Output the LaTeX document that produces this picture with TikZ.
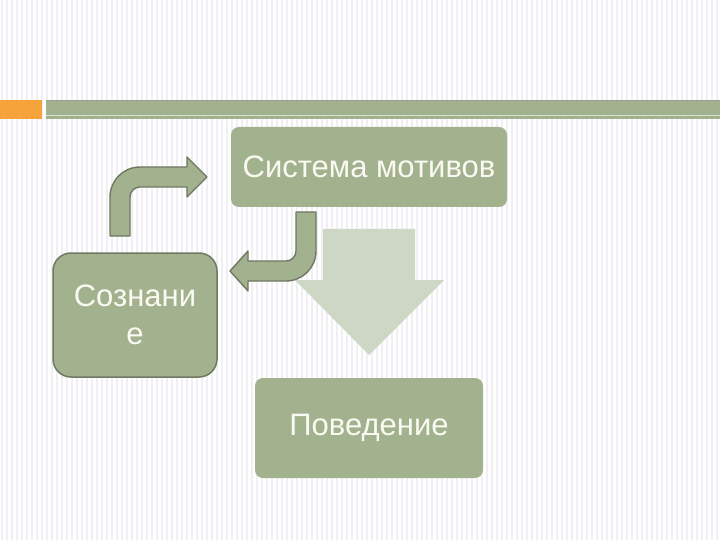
\documentclass[tikz,border=0pt]{standalone}
\usepackage{fontspec}
\setmainfont{Liberation Sans}
\definecolor{boxgreen}{HTML}{A2B18E}
\definecolor{edgegreen}{HTML}{6F7862}
\definecolor{palegreen}{HTML}{CED6C4}
\definecolor{barorange}{HTML}{F5A33A}
\definecolor{stripe}{HTML}{F1EFF4}
\definecolor{labelwhite}{HTML}{FAFAF2}

\begin{document}
\begin{tikzpicture}[x=1pt,y=-1pt]
\tikzset{
  stepbox/.style={rectangle,fill=boxgreen,text=labelwhite,rounded corners=8pt,inner sep=2pt,align=center,font=\fontsize{31}{38}\selectfont},
  bentarrow/.style={fill=boxgreen,draw=edgegreen,line width=1.4pt,line join=round},
  bigarrow/.style={fill=palegreen}
}
\useasboundingbox[fill=white] (0,0) rectangle (720,540);
\foreach \x in {2,7,...,720} \draw[stripe,line width=1.6pt] (\x,0) -- (\x,540);
% title band
\fill[barorange] (0,100) rectangle (42,119);
\fill[boxgreen] (46,100) rectangle (720,119);
\draw[edgegreen!70,line width=0.8pt] (46,100.5) -- (720,100.5);
\draw[white!60!boxgreen,line width=0.6pt] (46,115) -- (720,115);
% boxes
\node[stepbox,minimum width=276pt,minimum height=80pt] (n_motiv) at (369,167) {Система мотивов};
\node[stepbox,minimum width=164pt,minimum height=124pt,rounded corners=18pt,draw=edgegreen,line width=1.5pt] (n_soznanie) at (135,315) {Сознани\\е};
\node[stepbox,minimum width=228pt,minimum height=100pt] (n_povedenie) at (369,428) {Поведение};
% big down arrow
\fill[bigarrow] (323,229) -- (415,229) -- (415,280) -- (444,280) -- (369,355) -- (295,280) -- (323,280) -- cycle;
% bent arrows
\draw[bentarrow] (110,236) -- (110,197) .. controls (110,180.4) and (123.4,167) .. (140,167) -- (187,167) -- (187,157) -- (207,177) -- (187,197) -- (187,187) -- (140,187) .. controls (134.5,187) and (130,191.5) .. (130,197) -- (130,236) -- cycle;
\draw[bentarrow] (296,212) -- (316,212) -- (316,251) .. controls (316,267.6) and (302.6,281) .. (286,281) -- (248,281) -- (248,291) -- (230,271) -- (248,251) -- (248,261) -- (286,261) .. controls (291.5,261) and (296,256.5) .. (296,251) -- cycle;
\end{tikzpicture}
\end{document}
